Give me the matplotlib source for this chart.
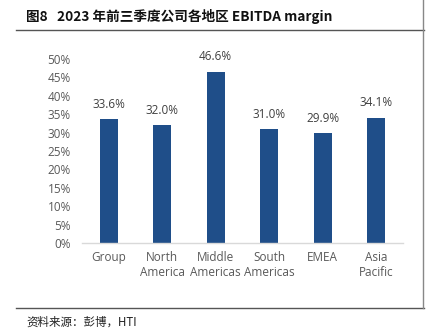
import matplotlib.pyplot as plt
from matplotlib.lines import Line2D
import numpy as np

plt.rcParams['font.family'] = ['Open Sans', 'Noto Sans CJK SC', 'DejaVu Sans']

# dados
regions = ['Group', 'North\nAmerica', 'Middle\nAmericas', 'South\nAmericas', 'EMEA', 'Asia\nPacific']
margins = [33.6, 32.0, 46.6, 31.0, 29.9, 34.1]
yticks = [0, 5, 10, 15, 20, 25, 30, 35, 40, 45, 50]

W, H = 435, 333
fig = plt.figure(figsize=(W / 100, H / 100), dpi=100)

# eixo principal (coordenadas em pixels convertidas)
left, right, bottom, top = 82, 403, 243, 59
ax = fig.add_axes([left / W, 1 - bottom / H, (right - left) / W, (bottom - top) / H])

x = np.arange(len(regions))
bars = ax.bar(x, margins, width=0.33, color='#1F4E89')
ax.set_xlim(-0.5, len(regions) - 0.5)
ax.set_ylim(0, 50)
ax.set_yticks(yticks)
ax.set_yticklabels([f'{v}%' for v in yticks])
ax.set_xticks(x)
ax.set_xticklabels(regions)
ax.tick_params(axis='both', length=0, colors='#595959', labelsize=8.5)
ax.tick_params(axis='y', pad=8)
ax.tick_params(axis='x', pad=6)
for s in ['top', 'right', 'left']:
    ax.spines[s].set_visible(False)
ax.spines['bottom'].set_color('#D9D9D9')
ax.spines['bottom'].set_linewidth(1)

for b, v in zip(bars, margins):
    ax.annotate(f'{v:.1f}%', xy=(b.get_x() + b.get_width() / 2, v),
                xytext=(0, 6), textcoords='offset points',
                ha='center', va='bottom', fontsize=8.5, color='#404040')

# moldura e titulo
def px_line(x0, y0, x1, y1, color='#555555', lw=1.0):
    fig.add_artist(Line2D([x0 / W, x1 / W], [1 - y0 / H, 1 - y1 / H],
                          color=color, lw=lw, transform=fig.transFigure))

px_line(16, 30, 424, 30)
px_line(16, 308, 424, 308)
px_line(423.5, 0, 423.5, 308, color='#888888')

fig.text(26 / W, 1 - 16 / H, '图8   2023 年前三季度公司各地区 EBITDA margin',
         fontsize=9.8, fontweight='bold', ha='left', va='center',
         family=['Noto Sans CJK SC', 'DejaVu Sans'], color='#111111')
fig.text(26 / W, 1 - 322 / H, '资料来源：彭博，HTI',
         fontsize=8.3, ha='left', va='center',
         family=['Noto Sans CJK SC', 'DejaVu Sans'], color='#222222')

fig.savefig('out.png', dpi=100)
